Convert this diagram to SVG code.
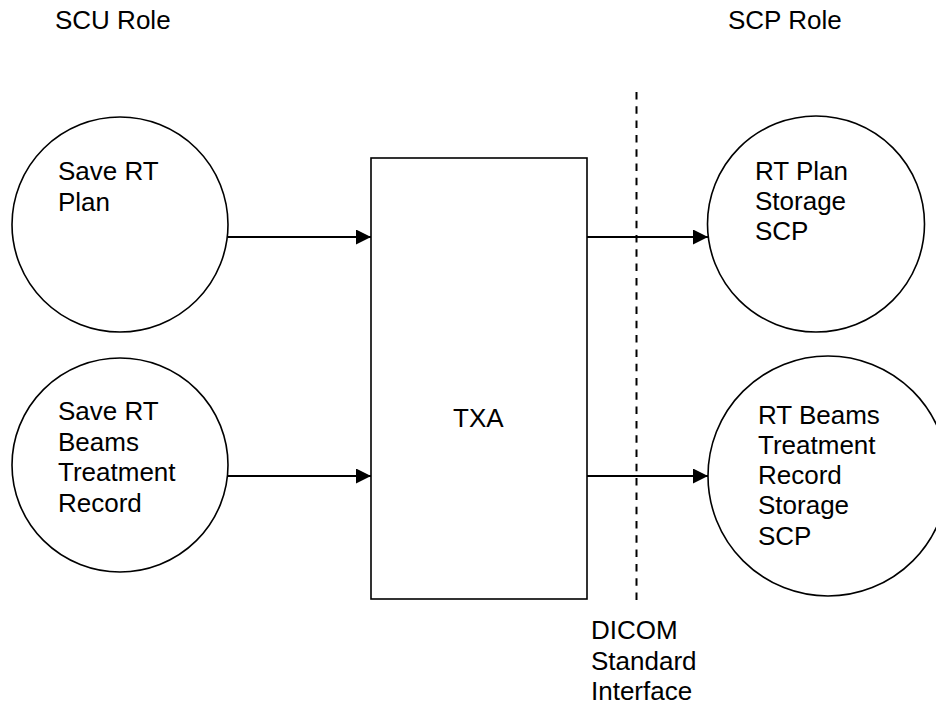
<svg xmlns="http://www.w3.org/2000/svg" width="936" height="708" viewBox="0 0 936 708">
<style>
text{font-family:"Liberation Sans",Arial,sans-serif;font-size:26px;fill:#000}
.node{fill:#fff;stroke:#000;stroke-width:1.6}
.conn{stroke:#000;stroke-width:2;fill:none}
.dash{stroke:#000;stroke-width:2;stroke-dasharray:7.5 6.8;fill:none}
</style>
<defs>
<marker id="ah" viewBox="0 0 15 15" refX="15" refY="7.5" markerWidth="15" markerHeight="15" markerUnits="userSpaceOnUse" orient="auto">
<path d="M0,0 L15,7.5 L0,15 Z" fill="#000"/>
</marker>
</defs>
<rect width="936" height="708" fill="#fff"/>
<g id="headers">
<text x="55" y="29">SCU Role</text>
<text x="728" y="29">SCP Role</text>
</g>
<g id="save-rt-plan">
<ellipse class="node" cx="120" cy="224.5" rx="108" ry="107.5"/>
<text x="58" y="180">Save RT</text>
<text x="58" y="211">Plan</text>
</g>
<g id="save-rt-beams">
<ellipse class="node" cx="120" cy="465" rx="108" ry="107"/>
<text x="58" y="420">Save RT</text>
<text x="58" y="451">Beams</text>
<text x="58" y="481">Treatment</text>
<text x="58" y="512">Record</text>
</g>
<g id="txa">
<rect class="node" x="371" y="158" width="216" height="441"/>
<text x="453" y="427">TXA</text>
</g>
<g id="rt-plan-storage">
<ellipse class="node" cx="816" cy="224" rx="108.5" ry="108"/>
<text x="755" y="180">RT Plan</text>
<text x="755" y="210">Storage</text>
<text x="755" y="240">SCP</text>
</g>
<g id="rt-beams-storage">
<ellipse class="node" cx="828" cy="476" rx="120" ry="120"/>
<text x="758" y="424">RT Beams</text>
<text x="758" y="454">Treatment</text>
<text x="758" y="484">Record</text>
<text x="758" y="514">Storage</text>
<text x="758" y="545">SCP</text>
</g>
<g id="dicom-interface">
<line class="dash" x1="636.5" y1="92" x2="636.5" y2="603"/>
<text x="591" y="639">DICOM</text>
<text x="591" y="670">Standard</text>
<text x="591" y="700">Interface</text>
</g>
<g id="connectors">
<line class="conn" x1="228" y1="237" x2="371" y2="237" marker-end="url(#ah)"/>
<line class="conn" x1="228" y1="476" x2="371" y2="476" marker-end="url(#ah)"/>
<line class="conn" x1="587" y1="237" x2="708" y2="237" marker-end="url(#ah)"/>
<line class="conn" x1="587" y1="476" x2="708" y2="476" marker-end="url(#ah)"/>
</g>
</svg>
